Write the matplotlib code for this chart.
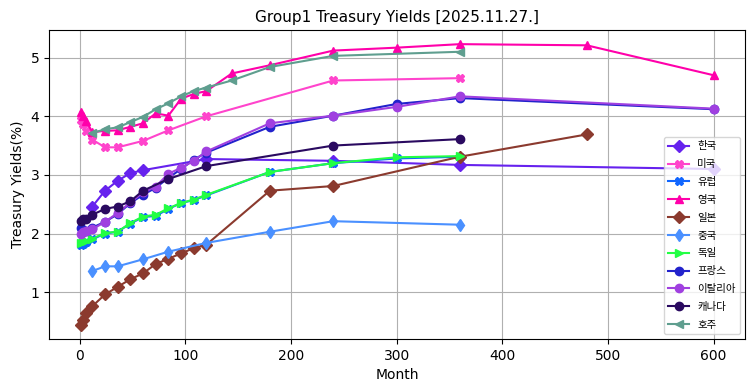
import matplotlib
matplotlib.use('Agg')
import matplotlib.pyplot as plt

# 한글 폰트 (영문은 DejaVu, 한글은 Noto CJK로 대체)
plt.rcParams['font.family'] = ['DejaVu Sans', 'Noto Sans CJK KR']

# 국가별 만기(월) / 금리(%)
kr_m = [12, 24, 36, 48, 60, 120, 240, 360, 600]
kr_y = [2.46, 2.73, 2.90, 3.03, 3.08, 3.27, 3.24, 3.17, 3.10]

us_m = [1, 3, 6, 12, 24, 36, 60, 84, 120, 240, 360]
us_y = [3.93, 3.86, 3.74, 3.60, 3.47, 3.47, 3.58, 3.76, 4.00, 4.61, 4.65]

eu_m = [1, 3, 6, 12, 24, 36, 48, 60, 72, 84, 96, 108, 120, 180, 240, 300, 360]
eu_y = [1.80, 1.82, 1.85, 1.90, 2.00, 2.03, 2.17, 2.28, 2.30, 2.42, 2.52, 2.57, 2.65,
        3.05, 3.20, 3.28, 3.31]

uk_m = [1, 3, 6, 12, 24, 36, 48, 60, 72, 84, 96, 108, 120, 144, 180, 240, 300, 360, 480, 600]
uk_y = [4.08, 4.00, 3.92, 3.73, 3.75, 3.76, 3.82, 3.88, 4.05, 4.01, 4.30, 4.38, 4.43,
        4.73, 4.87, 5.12, 5.17, 5.23, 5.21, 4.70]

jp_m = [1, 3, 6, 12, 24, 36, 48, 60, 72, 84, 96, 108, 120, 180, 240, 360, 480]
jp_y = [0.44, 0.53, 0.65, 0.76, 0.96, 1.09, 1.22, 1.32, 1.48, 1.57, 1.66, 1.75, 1.81,
        2.73, 2.81, 3.31, 3.69]

cn_m = [12, 24, 36, 60, 84, 120, 180, 240, 360]
cn_y = [1.36, 1.44, 1.44, 1.56, 1.69, 1.84, 2.03, 2.21, 2.15]

de_m = [1, 3, 6, 12, 24, 36, 48, 60, 72, 84, 96, 108, 120, 180, 240, 300, 360]
de_y = [1.84, 1.86, 1.88, 1.91, 2.01, 2.03, 2.18, 2.29, 2.32, 2.43, 2.52, 2.58, 2.66,
        3.05, 3.20, 3.30, 3.32]

fr_m = [1, 3, 6, 12, 24, 36, 48, 60, 72, 84, 96, 108, 120, 180, 240, 300, 360, 600]
fr_y = [2.10, 2.06, 2.05, 2.10, 2.20, 2.33, 2.52, 2.66, 2.78, 2.95, 3.10, 3.26, 3.38,
        3.82, 4.01, 4.21, 4.31, 4.12]

it_m = [1, 3, 6, 12, 24, 36, 48, 60, 72, 84, 96, 108, 120, 180, 240, 300, 360, 600]
it_y = [2.00, 2.03, 2.05, 2.07, 2.20, 2.35, 2.53, 2.70, 2.80, 3.02, 3.12, 3.24, 3.40,
        3.88, 4.01, 4.16, 4.34, 4.13]

ca_m = [1, 3, 6, 12, 24, 36, 48, 60, 84, 120, 240, 360]
ca_y = [2.22, 2.24, 2.25, 2.32, 2.42, 2.46, 2.55, 2.73, 2.93, 3.15, 3.50, 3.61]

au_m = [12, 24, 36, 48, 60, 72, 84, 96, 108, 120, 144, 180, 240, 360]
au_y = [3.71, 3.78, 3.81, 3.90, 3.99, 4.12, 4.22, 4.34, 4.43, 4.49, 4.61, 4.84, 5.03, 5.10]

series = [
    ('한국', kr_m, kr_y, 'D', '#6622ee'),
    ('미국', us_m, us_y, 'X', '#ff44cc'),
    ('유럽', eu_m, eu_y, 'X', '#1166ff'),
    ('영국', uk_m, uk_y, '^', '#ff00aa'),
    ('일본', jp_m, jp_y, 'D', '#8b3a2e'),
    ('중국', cn_m, cn_y, 'd', '#4a90ff'),
    ('독일', de_m, de_y, '>', '#22ff44'),
    ('프랑스', fr_m, fr_y, 'o', '#2222cc'),
    ('이탈리아', it_m, it_y, 'o', '#a040e0'),
    ('캐나다', ca_m, ca_y, 'o', '#2a0a60'),
    ('호주', au_m, au_y, '<', '#5f9e8f'),
]

fig, ax = plt.subplots(figsize=(7.55, 3.91), dpi=100)
fig.subplots_adjust(left=0.065, right=0.987, top=0.923, bottom=0.133)

for name, m, y, mk, c in series:
    ax.plot(m, y, marker=mk, color=c, label=name)

ax.set_title('Group1 Treasury Yields [2025.11.27.]', fontsize=11)
ax.set_xlabel('Month')
ax.set_ylabel('Treasury Yields(%)')
ax.grid(True)
ax.legend(loc='lower right', fontsize=7.5, labelspacing=0.75)

fig.savefig('out.png')
